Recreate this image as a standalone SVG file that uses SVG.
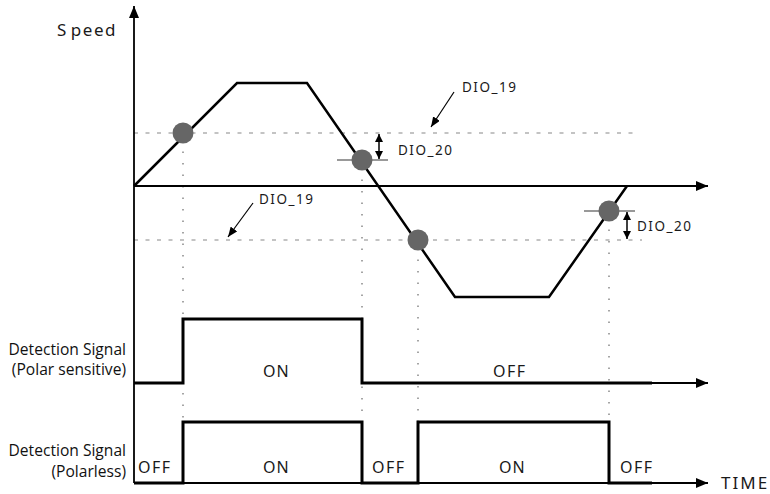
<svg xmlns="http://www.w3.org/2000/svg" width="770" height="494" viewBox="0 0 770 494">
<defs>
<marker id="ah" viewBox="0 0 12 10" refX="12" refY="5" markerWidth="12" markerHeight="10" markerUnits="userSpaceOnUse" orient="auto">
<path d="M0,0 L12,5 L0,10 Z" fill="#000"/>
</marker>
<marker id="sa" viewBox="0 0 8 8" refX="8" refY="4" markerWidth="8" markerHeight="8" markerUnits="userSpaceOnUse" orient="auto-start-reverse">
<path d="M0,0 L8,4 L0,8 Z" fill="#000"/>
</marker>
<marker id="la" viewBox="0 0 10 8" refX="10" refY="4" markerWidth="10" markerHeight="8" markerUnits="userSpaceOnUse" orient="auto">
<path d="M0,0 L10,4 L0,8 Z" fill="#000"/>
</marker>
</defs>
<style>
.t{font-family:"Noto Sans","Open Sans",sans-serif;fill:#1a1a1a;}
.lbl{font-family:"Open Sans","Noto Sans",sans-serif;font-size:15.6px;fill:#111;text-anchor:end;}
.dash{stroke:#888;stroke-width:1.2;stroke-dasharray:4 7.5;fill:none;}
.dot{stroke:#888;stroke-width:1.5;stroke-dasharray:1.5 10;fill:none;}
.pt{fill:#666;}
.tick{stroke:#777;stroke-width:1.5;}
.wave{stroke:#000;stroke-width:3;fill:none;stroke-linejoin:miter;}
.axis{stroke:#000;stroke-width:1.8;fill:none;}
</style>
<g id="guides">
<line class="dash" x1="134" y1="133" x2="640" y2="133"/>
<line class="dash" x1="134" y1="240" x2="642" y2="240"/>
<line class="dot" x1="183" y1="140" x2="183" y2="422"/>
<line class="dot" x1="362" y1="168" x2="362" y2="422"/>
<line class="dot" x1="418" y1="248" x2="418" y2="422"/>
<line class="dot" x1="609" y1="218" x2="609" y2="422"/>
</g>
<g id="axes">
<line class="axis" x1="134" y1="483" x2="134" y2="6" marker-end="url(#ah)" stroke-width="2"/>
<line class="axis" x1="134" y1="186" x2="708" y2="186" stroke-width="2.5" marker-end="url(#ah)"/>
<line class="axis" x1="640" y1="383" x2="708" y2="383" marker-end="url(#ah)"/>
<line class="axis" x1="134" y1="483" x2="708" y2="483" marker-end="url(#ah)"/>
</g>
<g id="speed-curve">
<polyline points="134,186 237,83 307,83 455,297 549,297 627,186" fill="none" stroke="#000" stroke-width="2.5"/>
</g>
<g id="connectors">
<line class="tick" x1="337" y1="160" x2="388" y2="160"/>
<line class="tick" x1="584" y1="211" x2="635" y2="211"/>
<line x1="379" y1="134" x2="379" y2="159" stroke="#000" stroke-width="1.5" marker-start="url(#sa)" marker-end="url(#sa)"/>
<line x1="627" y1="212" x2="627" y2="239" stroke="#000" stroke-width="1.5" marker-start="url(#sa)" marker-end="url(#sa)"/>
<line x1="454" y1="92" x2="431" y2="127" stroke="#000" stroke-width="1.2" marker-end="url(#la)"/>
<line x1="253" y1="203" x2="228" y2="237" stroke="#000" stroke-width="1.2" marker-end="url(#la)"/>
</g>
<g id="points">
<circle class="pt" cx="183" cy="133" r="10.5"/>
<circle class="pt" cx="362" cy="160" r="10.5"/>
<circle class="pt" cx="418" cy="240" r="10.5"/>
<circle class="pt" cx="609" cy="211" r="10.5"/>
</g>
<g id="signal-polar">
<polyline class="wave" points="134,383 183,383 183,319 362,319 362,383 652,383"/>
</g>
<g id="signal-polarless">
<polyline class="wave" points="134,483 183,483 183,422 362,422 362,483 418,483 418,422 609,422 609,483 652,483"/>
</g>
<g id="labels">
<text class="t" x="57" y="36" font-size="17" letter-spacing="1.5">S<tspan dx="3">peed</tspan></text>
<text class="t" x="462" y="92" font-size="13.5" letter-spacing="1.5">DIO_19</text>
<text class="t" x="259" y="204" font-size="13.5" letter-spacing="1.5">DIO_19</text>
<text class="t" x="398" y="155" font-size="13.5" letter-spacing="1.5">DIO_20</text>
<text class="t" x="637" y="231" font-size="13.5" letter-spacing="1.5">DIO_20</text>
<text class="lbl" x="126" y="355">Detection Signal</text>
<text class="lbl" x="126" y="375">(Polar sensitive)</text>
<text class="lbl" x="126" y="456">Detection Signal</text>
<text class="lbl" x="126" y="477">(Polarless)</text>
<text class="t" x="263" y="377" font-size="16" letter-spacing="1">ON</text>
<text class="t" x="493" y="377" font-size="16" letter-spacing="1.5">OFF</text>
<text class="t" x="138" y="473" font-size="16" letter-spacing="1.5">OFF</text>
<text class="t" x="263" y="473" font-size="16" letter-spacing="1">ON</text>
<text class="t" x="372" y="473" font-size="16" letter-spacing="1.5">OFF</text>
<text class="t" x="499" y="473" font-size="16" letter-spacing="1">ON</text>
<text class="t" x="620" y="473" font-size="16" letter-spacing="1.5">OFF</text>
<text class="t" x="721" y="489" font-size="17" letter-spacing="2">TIME</text>
</g>
</svg>
